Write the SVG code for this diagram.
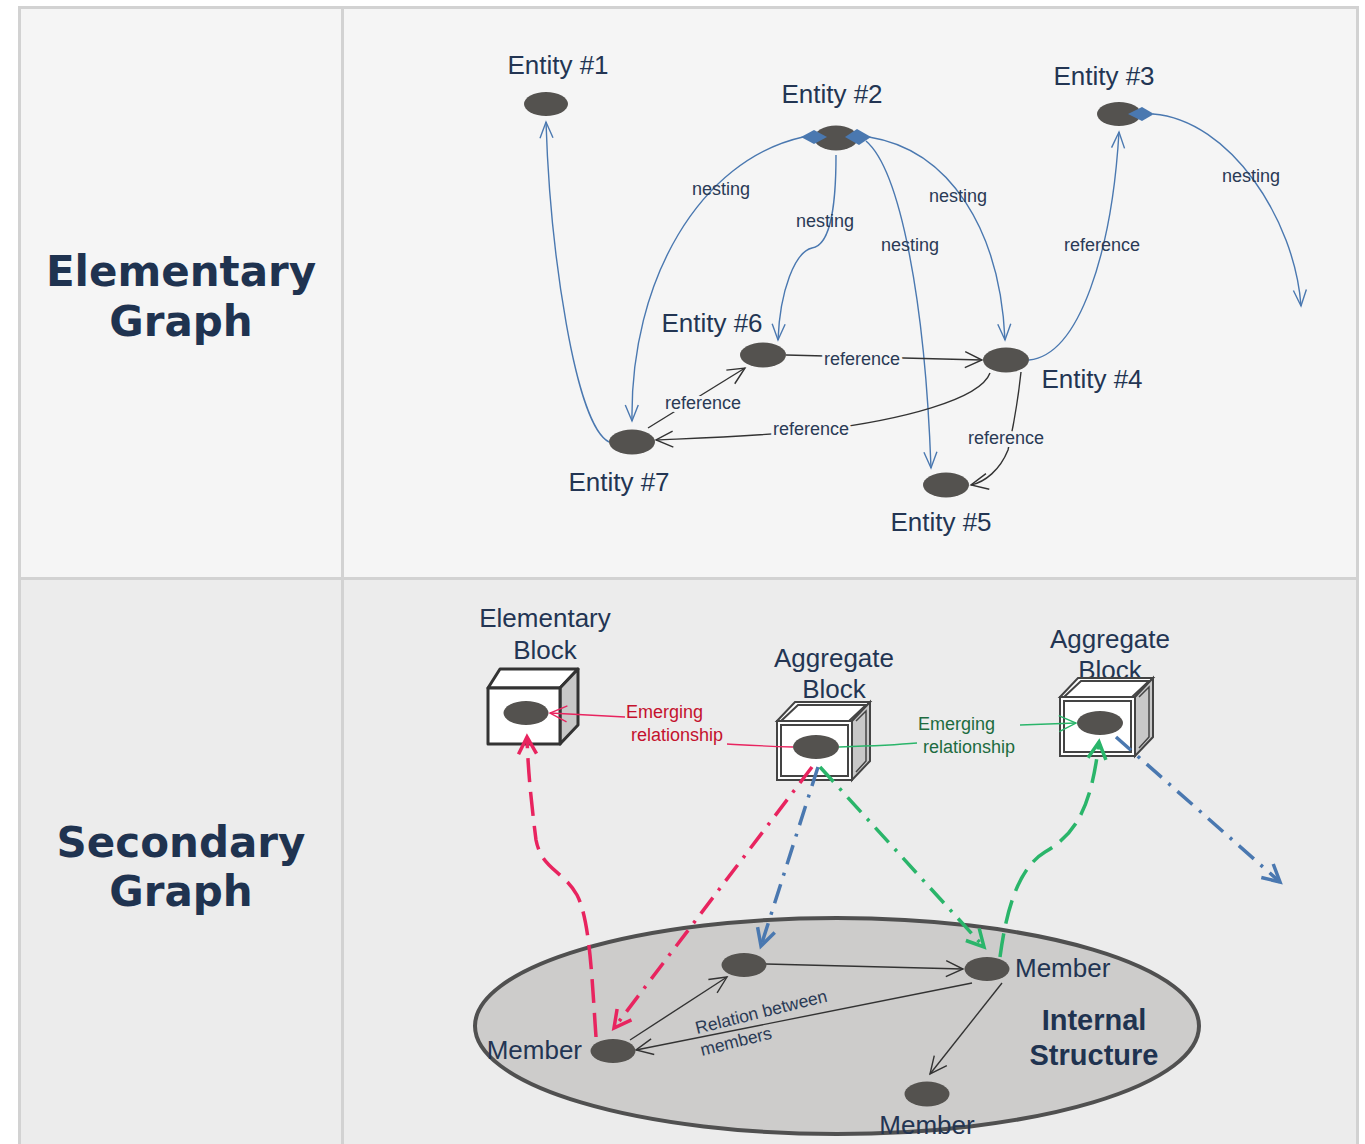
<svg xmlns="http://www.w3.org/2000/svg" width="1365" height="1144" viewBox="0 0 1365 1144">
<defs>
<style>
.title{font-family:"DejaVu Sans",Verdana,sans-serif;font-weight:bold;font-size:42px;fill:#1f3350;text-anchor:middle}
.ent{font-family:"Liberation Sans",Arial,sans-serif;font-size:26px;fill:#233553;text-anchor:middle}
.lbl{font-family:"Liberation Sans",Arial,sans-serif;font-size:18px;fill:#2a3a55;text-anchor:middle}
.mem{font-family:"Liberation Sans",Arial,sans-serif;font-size:26px;fill:#233553}
.emR{font-family:"Liberation Sans",Arial,sans-serif;font-size:18px;fill:#c4122e}
.emG{font-family:"Liberation Sans",Arial,sans-serif;font-size:18px;fill:#1d6b40}
.bgT{paint-order:stroke;stroke:#f5f5f5;stroke-width:6px;stroke-linejoin:round}
.node{fill:#54524f}
.blue{fill:none;stroke:#4a78b0;stroke-width:1.4}
.blk{fill:none;stroke:#333;stroke-width:1.4}
.cubeF{fill:#fff;stroke:#333;stroke-width:3;stroke-linejoin:round}
.cubeS{fill:#c8c8c8;stroke:#333;stroke-width:3;stroke-linejoin:round}
.cubeT{fill:#fff;stroke:#333;stroke-width:3;stroke-linejoin:round}
.dcF{fill:#fff;stroke:#444;stroke-width:2}
.dcS{fill:#c8c8c8;stroke:#444;stroke-width:2}
.diam{fill:#4a78b0}
.pinkD{fill:none;stroke:#e8245f;stroke-width:3.5}
.greenD{fill:none;stroke:#2ab56a;stroke-width:3.5}
.blueD{fill:none;stroke:#4a78b0;stroke-width:3.5}
</style>
<marker id="aBlue" markerUnits="userSpaceOnUse" markerWidth="40" markerHeight="40" refX="0" refY="0" orient="auto" overflow="visible"><path d="M-16,-6.5 L0,0 L-16,6.5" fill="none" stroke="#4a78b0" stroke-width="1.4"/></marker>
<marker id="aBlk" markerUnits="userSpaceOnUse" markerWidth="40" markerHeight="40" refX="0" refY="0" orient="auto" overflow="visible"><path d="M-17,-8 L0,0 L-17,8" fill="none" stroke="#333" stroke-width="1.4"/></marker>
<marker id="aRedThin" markerUnits="userSpaceOnUse" markerWidth="40" markerHeight="40" orient="auto" overflow="visible"><path d="M-17,-8 L0,0 L-17,8" fill="none" stroke="#e8245f" stroke-width="1.4"/></marker>
<marker id="aGreenThin" markerUnits="userSpaceOnUse" markerWidth="40" markerHeight="40" orient="auto" overflow="visible"><path d="M-17,-8 L0,0 L-17,8" fill="none" stroke="#2ab56a" stroke-width="1.4"/></marker>
<marker id="aPink" markerUnits="userSpaceOnUse" markerWidth="40" markerHeight="40" orient="auto" overflow="visible"><path d="M-17,-9 L0,0 L-17,9" fill="none" stroke="#e8245f" stroke-width="3.5"/></marker>
<marker id="aGreen" markerUnits="userSpaceOnUse" markerWidth="40" markerHeight="40" orient="auto" overflow="visible"><path d="M-17,-9 L0,0 L-17,9" fill="none" stroke="#2ab56a" stroke-width="3.5"/></marker>
<marker id="aBlueT" markerUnits="userSpaceOnUse" markerWidth="40" markerHeight="40" orient="auto" overflow="visible"><path d="M-17,-9 L0,0 L-17,9" fill="none" stroke="#4a78b0" stroke-width="3.5"/></marker>
</defs>

<!-- table -->
<g id="table">
<rect x="19.5" y="7.5" width="1338" height="571" fill="#f5f5f5"/>
<rect x="19.5" y="578.5" width="1338" height="570" fill="#ececec"/>
<rect x="19.5" y="7.5" width="1338" height="1145" fill="none" stroke="#d2d2d2" stroke-width="3"/>
<line x1="342.5" y1="7" x2="342.5" y2="1144" stroke="#d2d2d2" stroke-width="3"/>
<line x1="19" y1="578.5" x2="1358" y2="578.5" stroke="#d2d2d2" stroke-width="3"/>
<text class="title" x="181" y="286">Elementary</text>
<text class="title" x="181" y="336">Graph</text>
<text class="title" x="181" y="857">Secondary</text>
<text class="title" x="181" y="906">Graph</text>
</g>

<!-- connectors -->
<g id="connectors">
<path class="blue" d="M609,442 C575,425 550,250 546,122" marker-end="url(#aBlue)"/>
<path class="blue" d="M803,137 C700,160 630,280 632,421" marker-end="url(#aBlue)"/>
<path class="blue" d="M836,155 C836,200 832,245 812,248 C795,252 780,290 778,340" marker-end="url(#aBlue)"/>
<path class="blue" d="M866,141 C900,170 925,300 931,468" marker-end="url(#aBlue)"/>
<path class="blue" d="M869,137 C950,150 1000,230 1005,340" marker-end="url(#aBlue)"/>
<path class="blue" d="M1029,360 C1080,355 1112,250 1119,132" marker-end="url(#aBlue)"/>
<path class="blue" d="M1153,114 C1230,120 1295,220 1301,306" marker-end="url(#aBlue)"/>
<path class="blk" d="M786,355 L982,360" marker-end="url(#aBlk)"/>
<path class="blk" d="M648,428 L745,368" marker-end="url(#aBlk)"/>
<path class="blk" d="M990,373 C980,400 900,420 820,430 C760,436 700,438 656,440" marker-end="url(#aBlk)"/>
<path class="blk" d="M1021,372 C1018,400 1015,420 1008,450 C1000,470 985,482 971,485" marker-end="url(#aBlk)"/>
<text class="lbl" x="721" y="195">nesting</text>
<text class="lbl" x="825" y="227">nesting</text>
<text class="lbl" x="910" y="251">nesting</text>
<text class="lbl" x="958" y="202">nesting</text>
<text class="lbl" x="1251" y="182">nesting</text>
<text class="lbl" x="1102" y="251">reference</text>
<text class="lbl bgT" x="862" y="365">reference</text>
<text class="lbl bgT" x="703" y="409">reference</text>
<text class="lbl bgT" x="811" y="435">reference</text>
<text class="lbl bgT" x="1006" y="444">reference</text>
</g>

<!-- elementary graph nodes -->
<g id="entity1"><ellipse class="node" cx="546" cy="104" rx="22" ry="12"/><text class="ent" x="558" y="74">Entity #1</text></g>
<g id="entity2"><ellipse class="node" cx="836" cy="138" rx="22" ry="12.5"/>
<polygon class="diam" points="801,137 814,130 827,137 814,144"/>
<polygon class="diam" points="845,137 857,129 871,137 859,145"/>
<text class="ent" x="832" y="103">Entity #2</text></g>
<g id="entity3"><ellipse class="node" cx="1119" cy="114" rx="22" ry="12"/>
<polygon class="diam" points="1128,114 1142,107 1154,114 1142,121"/>
<text class="ent" x="1104" y="85">Entity #3</text></g>
<g id="entity4"><ellipse class="node" cx="1006" cy="360" rx="23" ry="12.5"/><text class="ent" x="1092" y="388">Entity #4</text></g>
<g id="entity5"><ellipse class="node" cx="946" cy="485" rx="23" ry="12.5"/><text class="ent" x="941" y="531">Entity #5</text></g>
<g id="entity6"><ellipse class="node" cx="763" cy="355" rx="23" ry="12.5"/><text class="ent" x="712" y="332">Entity #6</text></g>
<g id="entity7"><ellipse class="node" cx="632" cy="442" rx="23" ry="12.5"/><text class="ent" x="619" y="491">Entity #7</text></g>

<!-- internal structure -->
<g id="internal-structure">
<ellipse cx="837" cy="1026" rx="362" ry="108" fill="#cdcccb" stroke="#505050" stroke-width="4"/>
<text x="1094" y="1030" font-family="Liberation Sans, Arial, sans-serif" font-weight="bold" font-size="29" fill="#1f3350" text-anchor="middle">Internal</text>
<text x="1094" y="1065" font-family="Liberation Sans, Arial, sans-serif" font-weight="bold" font-size="29" fill="#1f3350" text-anchor="middle">Structure</text>
</g>

<g id="member-connectors">
<path class="blk" d="M766,964 L963,969" marker-end="url(#aBlk)"/>
<path class="blk" d="M630,1040 L727,977" marker-end="url(#aBlk)"/>
<path class="blk" d="M972,983 L636,1050" marker-end="url(#aBlk)"/>
<path class="blk" d="M1002,983 L930,1074" marker-end="url(#aBlk)"/>
<text transform="translate(697,1034) rotate(-14)" font-family="Liberation Sans, Arial, sans-serif" font-size="17.5" fill="#2a3a55">Relation between</text>
<text transform="translate(702,1056) rotate(-14)" font-family="Liberation Sans, Arial, sans-serif" font-size="17.5" fill="#2a3a55">members</text>
</g>

<g id="member-top"><ellipse class="node" cx="744" cy="965" rx="22.5" ry="12"/></g>
<g id="member-right"><ellipse class="node" cx="987" cy="969" rx="22.5" ry="12"/><text class="mem" x="1015" y="977">Member</text></g>
<g id="member-left"><ellipse class="node" cx="613" cy="1051" rx="22.5" ry="12"/><text class="mem" x="582" y="1059" text-anchor="end">Member</text></g>
<g id="member-bottom"><ellipse class="node" cx="927" cy="1094" rx="22.5" ry="12.5"/><text class="mem" x="927" y="1134" text-anchor="middle">Member</text></g>

<!-- blocks -->
<g id="elementary-block">
<text class="ent" x="545" y="627">Elementary</text>
<text class="ent" x="545" y="659">Block</text>
<polygon class="cubeT" points="488,688 500,669 578,669 560,688"/>
<polygon class="cubeS" points="560,688 578,669 578,725 560,744"/>
<rect class="cubeF" x="488" y="688" width="72" height="56"/>
<ellipse class="node" cx="526" cy="713" rx="22.5" ry="12"/>
</g>

<g id="aggregate-block-1">
<text class="ent" x="834" y="667">Aggregate</text>
<text class="ent" x="834" y="698">Block</text>
<polygon class="dcF" points="777,721 795,702 870,702 852,721"/>
<polygon points="781,721 798,705 866,705 849,721" fill="none" stroke="#444" stroke-width="2"/>
<polygon class="dcS" points="852,721 870,702 870,761 852,780"/>
<polyline points="856,721 866,711 866,761 856,772" fill="none" stroke="#444" stroke-width="1.5"/>
<rect class="dcF" x="777" y="721" width="75" height="59"/>
<rect x="781" y="725" width="67" height="51" fill="none" stroke="#444" stroke-width="2"/>
<ellipse class="node" cx="816" cy="747" rx="23" ry="12"/>
</g>

<g id="aggregate-block-2">
<text class="ent" x="1110" y="648">Aggregate</text>
<text class="ent" x="1110" y="679">Block</text>
<polygon class="dcF" points="1060,697 1078,678 1153,678 1135,697"/>
<polygon points="1064,697 1081,681 1149,681 1132,697" fill="none" stroke="#444" stroke-width="2"/>
<polygon class="dcS" points="1135,697 1153,678 1153,737 1135,756"/>
<polyline points="1139,697 1149,687 1149,737 1139,748" fill="none" stroke="#444" stroke-width="1.5"/>
<rect class="dcF" x="1060" y="697" width="75" height="59"/>
<rect x="1064" y="701" width="67" height="51" fill="none" stroke="#444" stroke-width="2"/>
<ellipse class="node" cx="1100" cy="723" rx="23" ry="12"/>
</g>

<!-- secondary connectors -->
<g id="secondary-connectors">
<path d="M793,747 C760,746 745,745 727,744" fill="none" stroke="#e8245f" stroke-width="1.4"/>
<path d="M625,717 L550,713" fill="none" stroke="#e8245f" stroke-width="1.4" marker-end="url(#aRedThin)"/>
<text class="emR" x="626" y="718">Emerging</text>
<text class="emR" x="631" y="741">relationship</text>
<path d="M839,747 C870,746 895,745 917,743" fill="none" stroke="#2ab56a" stroke-width="1.4"/>
<path d="M1020,725 L1076,723" fill="none" stroke="#2ab56a" stroke-width="1.4" marker-end="url(#aGreenThin)"/>
<text class="emG" x="918" y="730">Emerging</text>
<text class="emG" x="923" y="753">relationship</text>
<path class="pinkD" stroke-dasharray="24,10" d="M596,1037 C592,980 590,920 577,895 C563,870 542,870 536,840 C531,800 528,770 527,737" marker-end="url(#aPink)"/>
<path class="pinkD" stroke-dasharray="20,9,3,9" d="M812,767 L614,1028" marker-end="url(#aPink)"/>
<path class="blueD" stroke-dasharray="20,9,3,9" d="M818,767 L761,946" marker-end="url(#aBlueT)"/>
<path class="greenD" stroke-dasharray="20,9,3,9" d="M820,767 L984,947" marker-end="url(#aGreen)"/>
<path class="greenD" stroke-dasharray="24,10" d="M1000,957 C1005,920 1015,870 1045,852 C1080,832 1092,800 1099,742" marker-end="url(#aGreen)"/>
<path class="blueD" stroke-dasharray="20,9,3,9" d="M1116,737 L1280,882" marker-end="url(#aBlueT)"/>
</g>
</svg>
